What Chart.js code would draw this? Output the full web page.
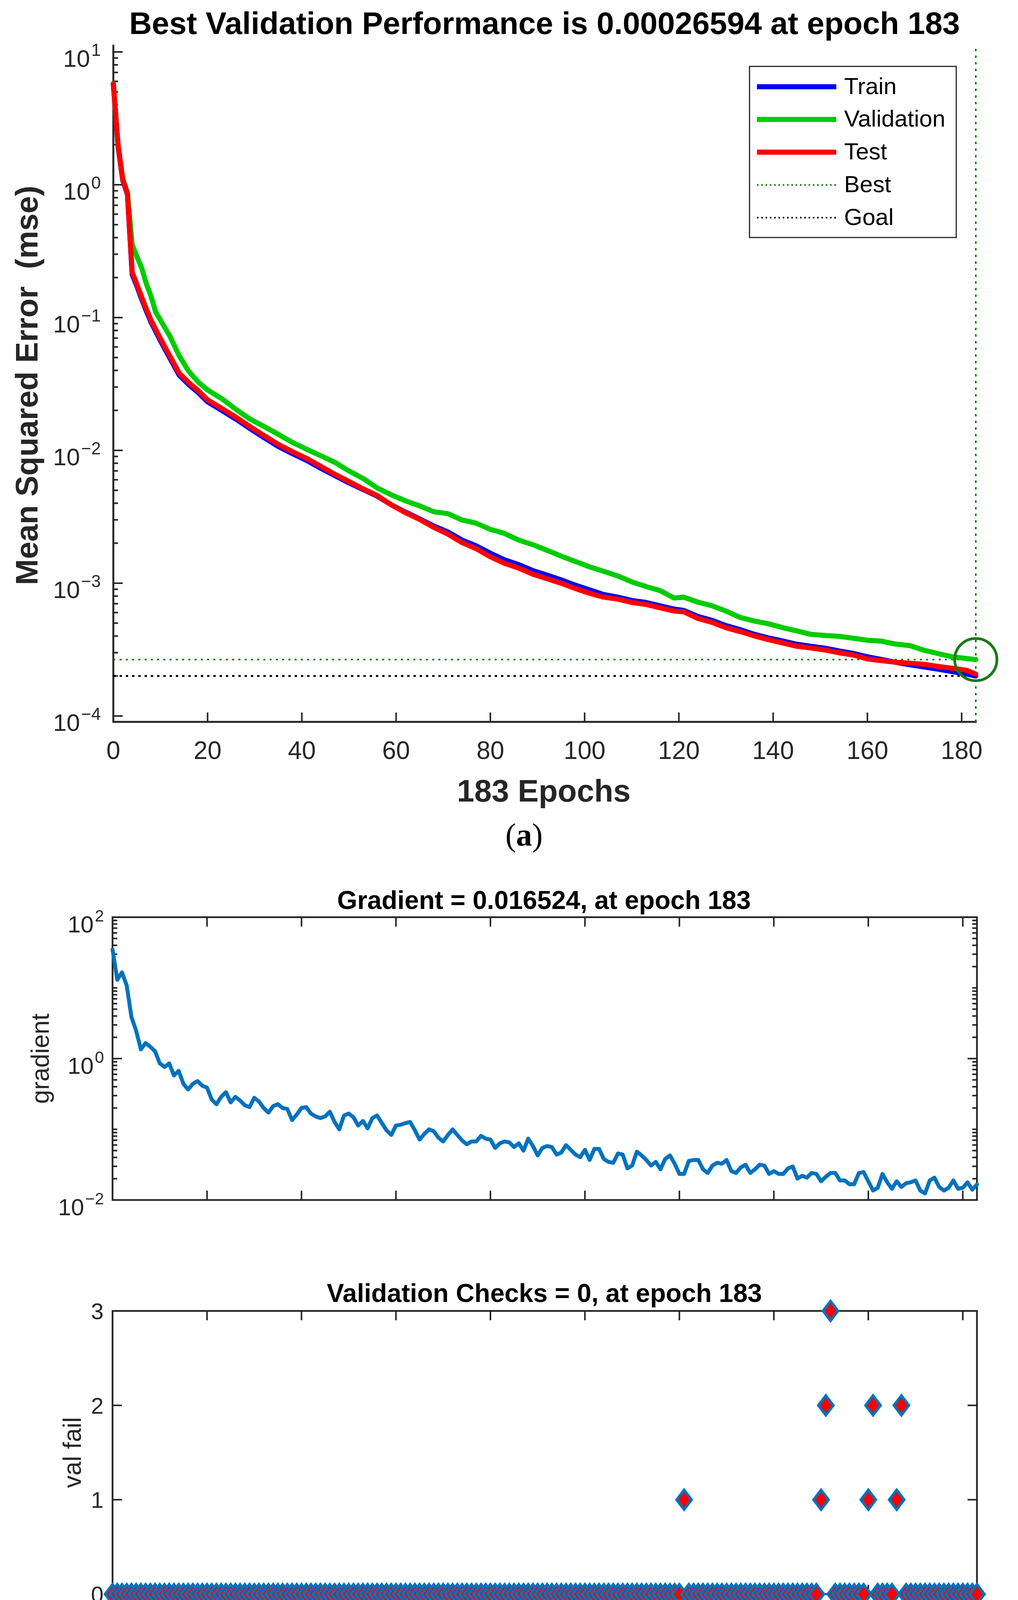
<!DOCTYPE html>
<html><head><meta charset="utf-8">
<script src="https://cdn.jsdelivr.net/npm/chart.js@4.4.1/dist/chart.umd.min.js"></script>
<style>
html,body{margin:0;padding:0;background:#fff;}
body{width:2605px;height:4438px;position:relative;overflow:hidden;}
canvas{position:absolute;left:0;}
</style></head><body>
<canvas id="cA" width="2605" height="2200" style="top:0px"></canvas>
<canvas id="cB" width="2605" height="960" style="top:2200px"></canvas>
<canvas id="cC" width="2605" height="1278" style="top:3160px"></canvas>
<script>
// ---------------- DATA ----------------
const mseEpochs = [0,1,2,3,4,5,6,7,8,9,10,12,14,16,18,20,23,26,29,32,35,38,41,44,47,50,53,56,59,62,65,68,71,74,77,80,83,86,89,92,95,98,101,104,107,110,113,116,119,121,124,127,130,133,136,139,142,145,148,151,154,157,160,163,166,169,172,175,178,181,183];
const trainMSE = [5.75,1.95,1.08,0.841,0.211,0.172,0.138,0.112,0.0923,0.0785,0.0668,
  0.0495,0.0367,0.0313,0.0272,0.0232,
  0.0200,0.0172,0.0146,0.01245,0.0107,0.00944,0.00841,0.00733,0.00646,0.00569,
  0.00507,0.00452,0.00389,0.00343,0.00305,0.00269,0.00243,0.00211,0.00191,0.00168,
  0.00150,0.00138,0.001245,0.00115,0.00106,9.66e-4,8.91e-4,8.22e-4,7.85e-4,7.41e-4,
  7.16e-4,6.76e-4,6.38e-4,
  6.24e-4,
  5.62e-4,5.25e-4,4.79e-4,4.47e-4,4.12e-4,3.87e-4,3.67e-4,3.47e-4,3.35e-4,3.24e-4,3.09e-4,2.96e-4,2.79e-4,2.66e-4,2.54e-4,2.43e-4,2.34e-4,2.25e-4,2.16e-4,2.07e-4,
  2.0e-4];
const valMSE = [5.78,2.0,1.11,0.871,0.355,0.288,0.237,0.180,0.1445,0.1096,0.0955,
  0.0724,0.0513,0.0394,0.0327,0.0285,
  0.0245,0.0204,0.0172,0.0151,0.0132,0.0115,0.0102,0.00912,0.00813,0.00700,
  0.00614,0.00521,0.00462,0.00417,0.00382,0.00345,0.00334,0.00299,0.00283,0.00254,
  0.00237,0.00211,0.00195,0.00177,0.00160,0.00146,0.00133,0.00123,0.001135,0.001023,
  9.44e-4,8.81e-4,7.73e-4,
  7.85e-4,
  7.21e-4,6.76e-4,6.17e-4,5.52e-4,5.19e-4,4.95e-4,4.63e-4,4.37e-4,4.12e-4,4.04e-4,3.98e-4,3.85e-4,3.72e-4,3.66e-4,3.48e-4,3.39e-4,3.13e-4,2.95e-4,2.79e-4,2.71e-4,
  2.6594e-4];
const testMSE = [5.78,2.0,1.10,0.851,0.219,0.178,0.143,0.116,0.0955,0.0813,0.0692,
  0.0513,0.0380,0.0324,0.0282,0.0240,
  0.0207,0.0178,0.0151,0.0129,0.0111,0.00977,0.00871,0.00759,0.00661,0.00582,
  0.00513,0.00457,0.00389,0.00339,0.00302,0.00263,0.00234,0.00202,0.00182,0.00158,
  0.00141,0.00130,0.00117,0.00108,0.00100,9.12e-4,8.41e-4,7.85e-4,7.59e-4,7.16e-4,
  6.92e-4,6.53e-4,6.17e-4,
  6.10e-4,
  5.43e-4,5.07e-4,4.62e-4,4.32e-4,4.01e-4,3.76e-4,3.55e-4,3.35e-4,3.25e-4,3.14e-4,2.99e-4,2.88e-4,2.69e-4,2.61e-4,2.54e-4,2.50e-4,2.45e-4,2.36e-4,2.29e-4,2.21e-4,
  2.07e-4];
const bestEpoch = 183;
const bestPerf = 0.00026594;
const goalMSE = 0.0002;
const mseRange = [9.03e-5, 11.14];
const mseExponents = [1,0,-1,-2,-3,-4];
const epochTicks = [0,20,40,60,80,100,120,140,160,180];

const epochs = Array.from({length:184}, (_, i) => i);
const gradient = [
  35,13.0,16.6,10.8,3.88,2.47,1.35,1.66,1.47,1.27,
  0.855,0.76,0.855,0.577,0.671,0.44,0.366,0.44,0.481,0.414,
  0.389,0.263,0.226,0.288,0.335,0.24,0.288,0.255,0.219,0.206,
  0.279,0.247,0.2,0.172,0.213,0.226,0.2,0.194,0.135,0.162,
  0.2,0.206,0.167,0.152,0.144,0.152,0.177,0.127,0.0998,0.157,
  0.167,0.148,0.113,0.131,0.103,0.144,0.157,0.123,0.0968,0.0832,
  0.113,0.116,0.122,0.127,0.097,0.0716,0.086,0.0998,0.094,0.076,
  0.0673,0.0832,0.0998,0.083,0.0695,0.0615,0.0673,0.0673,0.0807,0.0738,
  0.0716,0.0546,0.0634,0.0673,0.0653,0.0562,0.0634,0.0498,0.0738,0.058,
  0.0428,0.0546,0.058,0.0562,0.044,0.0469,0.0597,0.0513,0.044,0.0403,
  0.0513,0.0368,0.0528,0.0528,0.038,0.0346,0.0336,0.0455,0.044,0.028,
  0.0307,0.0483,0.0428,0.0368,0.0307,0.0346,0.0272,0.038,0.0428,0.0326,
  0.0234,0.0234,0.0357,0.0368,0.0368,0.0272,0.0241,0.0307,0.0336,0.0326,
  0.0368,0.0256,0.0241,0.0289,0.0316,0.0241,0.0272,0.0316,0.0307,0.0234,
  0.0256,0.0234,0.0234,0.028,0.0298,0.0201,0.022,0.0207,0.0241,0.0234,
  0.0184,0.0213,0.0241,0.0241,0.0189,0.0189,0.0167,0.0167,0.0241,0.0248,
  0.0184,0.0136,0.0149,0.0234,0.0178,0.0144,0.0184,0.0153,0.0173,0.0178,
  0.0189,0.0136,0.0124,0.0189,0.0207,0.0153,0.0136,0.0149,0.0189,0.0144,
  0.0149,0.0178,0.014,0.016524];
const gradRange = [0.01, 100];
const gradExponents = [2,0,-2];

const valFail = [
  0,0,0,0,0,0,0,0,0,0, 0,0,0,0,0,0,0,0,0,0, 0,0,0,0,0,0,0,0,0,0,
  0,0,0,0,0,0,0,0,0,0, 0,0,0,0,0,0,0,0,0,0, 0,0,0,0,0,0,0,0,0,0,
  0,0,0,0,0,0,0,0,0,0, 0,0,0,0,0,0,0,0,0,0, 0,0,0,0,0,0,0,0,0,0,
  0,0,0,0,0,0,0,0,0,0, 0,0,0,0,0,0,0,0,0,0, 0,0,0,0,0,0,0,0,0,0,
  0,1,0,0,0,0,0,0,0,0, 0,0,0,0,0,0,0,0,0,0, 0,0,0,0,0,0,0,0,0,0,
  1,2,3,0,0,0,0,0,0,0, 1,2,0,0,0,0,1,2,0,0, 0,0,0,0,0,0,0,0,0,0,
  0,0,0,0];
const valTicks = [0,1,2,3];

// ---------------- STYLE ----------------
const FONT = '"Liberation Sans", Arial, Helvetica, sans-serif';
const SERIF = '"Liberation Serif", "Times New Roman", serif';
const AXC = '#262626';
const C_TRAIN = '#0000FF', C_VAL = '#00CC00', C_TEST = '#FF0000';
const C_BEST = '#007A00', C_CIRCLE = '#1A7A1A', C_GRAD = '#0072BD';

const pts = (xs, ys) => xs.map((x, i) => ({x: x, y: ys[i]}));

function logTicks(min, max, majors) {
  const out = [];
  for (let d = Math.floor(Math.log10(min)); d <= Math.ceil(Math.log10(max)); d++) {
    for (let k = 1; k <= 9; k++) {
      const v = k * Math.pow(10, d);
      if (v < min * 0.9999 || v > max * 1.0001) continue;
      out.push({v: v, major: k === 1 && majors.includes(d)});
    }
  }
  return out;
}

function drawFrame(chart, o) {
  const ctx = chart.ctx, a = chart.chartArea, x = chart.scales.x, y = chart.scales.y;
  ctx.save();
  ctx.strokeStyle = AXC;
  ctx.lineWidth = o.axisW; ctx.lineCap = 'square';
  ctx.beginPath();
  if (o.box) ctx.rect(a.left, a.top, a.right - a.left, a.bottom - a.top);
  else { ctx.moveTo(a.left, a.top); ctx.lineTo(a.left, a.bottom); ctx.lineTo(a.right, a.bottom); }
  ctx.stroke();
  ctx.lineWidth = 4; ctx.lineCap = 'butt';
  ctx.beginPath();
  for (const v of o.xTicks) {
    const p = x.getPixelForValue(v);
    ctx.moveTo(p, a.bottom); ctx.lineTo(p, a.bottom - 24);
    if (o.box) { ctx.moveTo(p, a.top); ctx.lineTo(p, a.top + 24); }
  }
  for (const t of o.yTicks) {
    const p = y.getPixelForValue(t.v), L = t.major ? 24 : 12;
    ctx.moveTo(a.left, p); ctx.lineTo(a.left + L, p);
    if (o.box) { ctx.moveTo(a.right, p); ctx.lineTo(a.right - L, p); }
  }
  ctx.stroke();
  ctx.restore();
}

function txt(ctx, s, x, y, font, color, align) {
  ctx.save(); ctx.font = font; ctx.fillStyle = color;
  ctx.textAlign = align || 'center'; ctx.textBaseline = 'alphabetic';
  ctx.fillText(s, x, y); ctx.restore();
}
function vtxt(ctx, s, x, y, font, color) {
  ctx.save(); ctx.translate(x, y); ctx.rotate(-Math.PI / 2);
  ctx.font = font; ctx.fillStyle = color; ctx.textAlign = 'center'; ctx.textBaseline = 'alphabetic';
  ctx.fillText(s, 0, 0); ctx.restore();
}
function pow10(ctx, xr, yc, e, f1, f2, dExp, d10) {
  ctx.save(); ctx.fillStyle = AXC; ctx.textAlign = 'right'; ctx.textBaseline = 'alphabetic';
  const es = e < 0 ? '\u2212' + (-e) : String(e);
  ctx.font = f2 + 'px ' + FONT;
  const ew = ctx.measureText(es).width;
  ctx.fillText(es, xr, yc + dExp + 0.358 * f2);
  ctx.font = f1 + 'px ' + FONT;
  ctx.fillText('10', xr - ew - 3, yc + d10 + 0.358 * f1);
  ctx.restore();
}
function caption(ctx, letter, cx, base) {
  ctx.save(); ctx.fillStyle = '#000'; ctx.textBaseline = 'alphabetic'; ctx.textAlign = 'left';
  const fn = '82px ' + SERIF, fb = 'bold 82px ' + SERIF;
  ctx.font = fn; const w1 = ctx.measureText('(').width, w3 = ctx.measureText(')').width;
  ctx.font = fb; const w2 = ctx.measureText(letter).width;
  let x0 = cx - (w1 + w2 + w3) / 2;
  ctx.font = fn; ctx.fillText('(', x0, base);
  ctx.font = fb; ctx.fillText(letter, x0 + w1, base);
  ctx.font = fn; ctx.fillText(')', x0 + w1 + w2, base);
  ctx.restore();
}

function drawLegend(ctx, a) {
  const W = 529, H = 438, L = a.right - 50 - W, T = a.top + 53;
  ctx.save();
  ctx.fillStyle = '#fff'; ctx.fillRect(L, T, W, H);
  ctx.strokeStyle = AXC; ctx.lineWidth = 3; ctx.strokeRect(L, T, W, H);
  const items = [
    {t: 'Train', c: C_TRAIN, w: 13, d: []},
    {t: 'Validation', c: C_VAL, w: 13, d: []},
    {t: 'Test', c: C_TEST, w: 13, d: []},
    {t: 'Best', c: C_BEST, w: 4, d: [4, 7]},
    {t: 'Goal', c: '#000', w: 4, d: [4, 7]}
  ];
  items.forEach((it, i) => {
    const yy = T + 52 + i * 83.8;
    ctx.beginPath(); ctx.setLineDash(it.d); ctx.lineCap = 'butt';
    ctx.strokeStyle = it.c; ctx.lineWidth = it.w;
    ctx.moveTo(L + 19, yy); ctx.lineTo(L + 222, yy); ctx.stroke();
    ctx.setLineDash([]);
    ctx.font = '60px ' + FONT; ctx.fillStyle = '#000'; ctx.textAlign = 'left'; ctx.textBaseline = 'middle';
    ctx.fillText(it.t, L + 242, yy + 2);
  });
  ctx.restore();
}

const common = {
  responsive: false, animation: false, devicePixelRatio: 1, events: [],
  plugins: {legend: {display: false}, tooltip: {enabled: false}, title: {display: false}},
  elements: {point: {radius: 0}, line: {tension: 0}}
};
const solid = (label, data, color, w, order) => ({
  label: label, data: data, borderColor: color, backgroundColor: color, borderWidth: w,
  borderCapStyle: 'round', borderJoinStyle: 'round', fill: false, pointRadius: 0, order: order, clip: false
});
const dotted = (label, data, color, w, dash, order) => ({
  label: label, data: data, borderColor: color, borderWidth: w, borderDash: dash,
  borderCapStyle: 'butt', fill: false, pointRadius: 0, order: order, clip: false
});

// ---------------- CHART A: performance ----------------
new Chart(document.getElementById('cA'), {
  type: 'line',
  data: {datasets: [
    solid('Test', pts(mseEpochs, testMSE), C_TEST, 13, 1),
    solid('Validation', pts(mseEpochs, valMSE), C_VAL, 13, 2),
    solid('Train', pts(mseEpochs, trainMSE), C_TRAIN, 13, 3),
    dotted('Best', [{x: 0, y: bestPerf}, {x: bestEpoch, y: bestPerf}], C_BEST, 4, [5, 11], 4),
    dotted('Best epoch', [{x: bestEpoch, y: mseRange[0]}, {x: bestEpoch, y: mseRange[1]}], C_BEST, 4, [6, 11], 5),
    dotted('Goal', [{x: 0, y: goalMSE}, {x: bestEpoch, y: goalMSE}], '#000', 5, [6, 10], 6),
    {label: 'Best point', data: [{x: bestEpoch, y: bestPerf}], showLine: false, pointRadius: 54,
     pointBorderWidth: 7, pointBorderColor: C_CIRCLE, pointBackgroundColor: 'rgba(0,0,0,0)', order: 0, clip: false}
  ]},
  options: Object.assign({}, common, {
    layout: {padding: {left: 290, right: 108, top: 117, bottom: 352}},
    scales: {
      x: {type: 'linear', min: 0, max: 183, display: false},
      y: {type: 'logarithmic', min: mseRange[0], max: mseRange[1], display: false}
    }
  }),
  plugins: [{
    id: 'frameA',
    beforeDatasetsDraw(chart) {
      drawFrame(chart, {box: false, axisW: 5, xTicks: epochTicks, yTicks: logTicks(mseRange[0], mseRange[1], mseExponents)});
    },
    afterDraw(chart) {
      const ctx = chart.ctx, a = chart.chartArea, x = chart.scales.x, y = chart.scales.y;
      const cx = (a.left + a.right) / 2, cy = (a.top + a.bottom) / 2;
      drawLegend(ctx, a);
      txt(ctx, 'Best Validation Performance is 0.00026594 at epoch 183', cx, 87, 'bold 80px ' + FONT, '#000');
      for (const v of epochTicks) txt(ctx, String(v), x.getPixelForValue(v), 1943, '64px ' + FONT, AXC);
      txt(ctx, '183 Epochs', cx - 2, 2052, 'bold 80px ' + FONT, AXC);
      vtxt(ctx, 'Mean Squared Error  (mse)', 96, cy + 4, 'bold 80px ' + FONT, AXC);
      for (const e of mseExponents) pow10(ctx, 258, y.getPixelForValue(Math.pow(10, e)), e, 62, 44, -6, 16);
      caption(ctx, 'a', 1341, 2165);
    }
  }]
});

// ---------------- CHART B: gradient ----------------
new Chart(document.getElementById('cB'), {
  type: 'line',
  data: {datasets: [solid('gradient', pts(epochs, gradient), C_GRAD, 10, 1)]},
  options: Object.assign({}, common, {
    layout: {padding: {left: 288, right: 105, top: 148, bottom: 88}},
    scales: {
      x: {type: 'linear', min: 0, max: 183, display: false},
      y: {type: 'logarithmic', min: gradRange[0], max: gradRange[1], display: false}
    }
  }),
  plugins: [{
    id: 'frameB',
    beforeDatasetsDraw(chart) {
      drawFrame(chart, {box: true, axisW: 4.5, xTicks: epochTicks, yTicks: logTicks(gradRange[0], gradRange[1], gradExponents)});
    },
    afterDraw(chart) {
      const ctx = chart.ctx, a = chart.chartArea, y = chart.scales.y;
      const cx = (a.left + a.right) / 2, cy = (a.top + a.bottom) / 2;
      txt(ctx, 'Gradient = 0.016524, at epoch 183', cx - 2, 127, 'bold 66px ' + FONT, '#000');
      vtxt(ctx, 'gradient', 125, cy, '64px ' + FONT, AXC);
      for (const e of gradExponents) pow10(ctx, 266, y.getPixelForValue(Math.pow(10, e)), e, 60, 42, -4, 18);
    }
  }]
});

// ---------------- CHART C: validation checks ----------------
function makeDiamond() {
  const c = document.createElement('canvas'); c.width = 60; c.height = 76;
  const g = c.getContext('2d');
  g.beginPath(); g.moveTo(30, 13); g.lineTo(49, 38); g.lineTo(30, 63); g.lineTo(11, 38); g.closePath();
  g.fillStyle = '#FF0000'; g.fill();
  g.lineWidth = 7; g.lineJoin = 'miter'; g.strokeStyle = C_GRAD; g.stroke();
  return c;
}
new Chart(document.getElementById('cC'), {
  type: 'line',
  data: {datasets: [{
    label: 'val fail', data: pts(epochs, valFail), showLine: false,
    pointStyle: makeDiamond(), pointRadius: 30, pointHoverRadius: 30, clip: false, order: 1
  }]},
  options: Object.assign({}, common, {
    layout: {padding: {left: 288, right: 105, top: 196, bottom: 357}},
    scales: {
      x: {type: 'linear', min: 0, max: 183, display: false},
      y: {type: 'linear', min: 0, max: 3, display: false}
    }
  }),
  plugins: [{
    id: 'frameC',
    beforeDatasetsDraw(chart) {
      drawFrame(chart, {box: true, axisW: 4.5, xTicks: epochTicks, yTicks: valTicks.map(v => ({v: v, major: true}))});
    },
    afterDraw(chart) {
      const ctx = chart.ctx, a = chart.chartArea, x = chart.scales.x, y = chart.scales.y;
      const cx = (a.left + a.right) / 2, cy = (a.top + a.bottom) / 2;
      txt(ctx, 'Validation Checks = 0, at epoch 183', cx - 1, 173, 'bold 66px ' + FONT, '#000');
      for (const v of epochTicks) txt(ctx, String(v), x.getPixelForValue(v), 1002, '58px ' + FONT, AXC);
      for (const v of valTicks) txt(ctx, String(v), 265, y.getPixelForValue(v) + 21, '58px ' + FONT, AXC, 'right');
      txt(ctx, '183 Epochs', cx + 2, 1092, '64px ' + FONT, AXC);
      vtxt(ctx, 'val fail', 207, cy, '64px ' + FONT, AXC);
      caption(ctx, 'b', 1344, 1233);
    }
  }]
});
</script>
</body></html>
